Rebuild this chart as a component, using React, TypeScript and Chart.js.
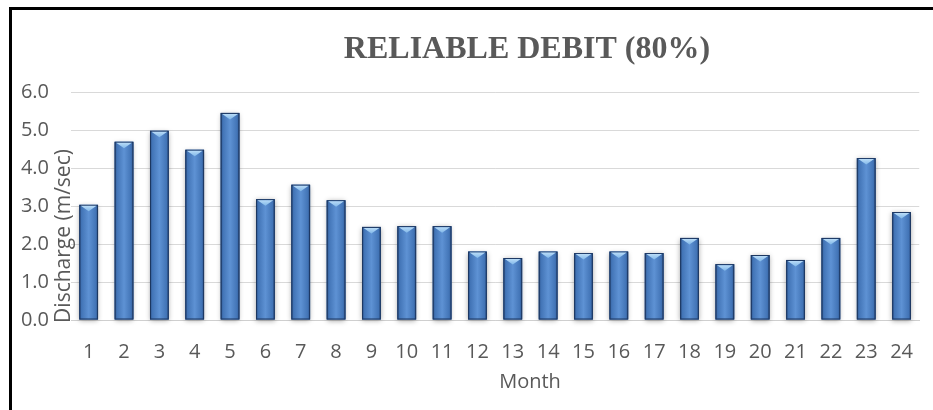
import React, { useEffect, useRef } from "react";
import { Chart, registerables } from "chart.js";

Chart.register(...registerables);

const months: string[] = ["1","2","3","4","5","6","7","8","9","10","11","12","13","14","15","16","17","18","19","20","21","22","23","24"];
const discharge: number[] = [3.03, 4.69, 4.98, 4.48, 5.45, 3.18, 3.56, 3.15, 2.45, 2.47, 2.47, 1.8, 1.63, 1.8, 1.76, 1.8, 1.76, 2.16, 1.47, 1.71, 1.58, 2.16, 4.26, 2.84];
const yTicks: number[] = [0, 1, 2, 3, 4, 5, 6];

const titleText = "RELIABLE DEBIT (80%)";
const yTitle = "Discharge (m/sec)";
const xTitle = "Month";
const textColor = "#595959";
const axisFont = "Open Sans";

const W = 933;
const H = 410;

const decorPlugin = {
  id: "decor",
  beforeDraw(chart: any) {
    const ctx = chart.ctx;
    ctx.save();
    ctx.fillStyle = "#ffffff";
    ctx.fillRect(0, 0, chart.width, chart.height);
    ctx.restore();
  },
  afterDatasetsDraw(chart: any) {
    const ctx = chart.ctx;
    const meta = chart.getDatasetMeta(0);
    ctx.save();
    meta.data.forEach((el: any) => {
      const w = el.width;
      const x0 = el.x - w / 2;
      const top = el.y;
      const bottom = el.base;
      const h = bottom - top;
      ctx.save();
      ctx.shadowColor = "rgba(0,0,0,0.35)";
      ctx.shadowBlur = 5;
      ctx.shadowOffsetX = 0;
      ctx.shadowOffsetY = 1;
      const g = ctx.createLinearGradient(x0, 0, x0 + w, 0);
      g.addColorStop(0, "#2a4f86");
      g.addColorStop(0.12, "#4274b6");
      g.addColorStop(0.5, "#5e92d4");
      g.addColorStop(0.88, "#4274b6");
      g.addColorStop(1, "#2a4f86");
      ctx.fillStyle = g;
      ctx.fillRect(x0, top, w, h);
      ctx.restore();
      ctx.strokeStyle = "#1d3760";
      ctx.lineWidth = 1;
      ctx.strokeRect(x0 + 0.5, top + 0.5, w - 1, h - 1);
      const cg = ctx.createLinearGradient(0, top, 0, top + 6);
      cg.addColorStop(0, "#c3e2fa");
      cg.addColorStop(1, "#86bbea");
      ctx.fillStyle = cg;
      ctx.beginPath();
      ctx.moveTo(x0 + 1.5, top + 1);
      ctx.lineTo(x0 + w - 1.5, top + 1);
      ctx.lineTo(el.x, top + 6.5);
      ctx.closePath();
      ctx.fill();
    });
    ctx.restore();
  },
  afterDraw(chart: any) {
    const ctx = chart.ctx;
    ctx.save();
    ctx.fillStyle = textColor;
    ctx.font = "bold 32px 'Liberation Serif', 'Times New Roman', serif";
    ctx.textAlign = "center";
    ctx.textBaseline = "alphabetic";
    ctx.fillText(titleText, 527, 58);
    ctx.font = `21px '${axisFont}'`;
    ctx.save();
    ctx.translate(64, 236);
    ctx.rotate(-Math.PI / 2);
    ctx.textAlign = "center";
    ctx.textBaseline = "middle";
    ctx.fillText(yTitle, 0, 0);
    ctx.restore();
    ctx.font = `20px '${axisFont}'`;
    ctx.textAlign = "center";
    ctx.textBaseline = "middle";
    ctx.fillText(xTitle, 530, 382);
    ctx.fillStyle = "#000000";
    ctx.fillRect(9, 7, W - 9, 3);
    ctx.fillRect(9, 7, 3, H - 7);
    ctx.restore();
  },
};

export default function App() {
  const ref = useRef<HTMLCanvasElement | null>(null);
  useEffect(() => {
    document.body.style.margin = "0";
    document.body.style.overflow = "hidden";
    const canvas = ref.current;
    if (!canvas) return;
    const chart = new Chart(canvas, {
      type: "bar",
      data: {
        labels: months,
        datasets: [
          {
            data: discharge,
            backgroundColor: "#4a7cc0",
            borderWidth: 0,
            barPercentage: 0.53,
            categoryPercentage: 1,
          },
        ],
      },
      options: {
        responsive: false,
        animation: false,
        devicePixelRatio: 1,
        layout: { padding: { top: 92, left: 0, right: 0, bottom: 0 } },
        plugins: {
          legend: { display: false },
          title: { display: false },
          tooltip: { enabled: false },
        },
        scales: {
          x: {
            grid: { display: false, drawTicks: false },
            border: { display: true, color: "#cfcfcf", width: 1 },
            ticks: {
              color: textColor,
              font: { family: axisFont, size: 20 },
              padding: 20,
              maxRotation: 0,
              autoSkip: false,
            },
            afterFit(scale: any) {
              scale.height = 90;
            },
          },
          y: {
            min: 0,
            max: 6,
            afterBuildTicks(scale: any) {
              scale.ticks = yTicks.map((v) => ({ value: v }));
            },
            grid: { color: "#d9d9d9", drawTicks: false, lineWidth: 1 },
            border: { display: false },
            ticks: {
              color: textColor,
              font: { family: axisFont, size: 20 },
              padding: 22,
              callback: (v: any) => Number(v).toFixed(1),
            },
            afterFit(scale: any) {
              scale.width = 71;
            },
          },
        },
      },
      plugins: [decorPlugin],
    });
    return () => chart.destroy();
  }, []);
  return (
    <div style={{ width: W, height: H, position: "relative" }}>
      <canvas ref={ref} width={W} height={H} style={{ display: "block", width: W, height: H }} />
    </div>
  );
}
